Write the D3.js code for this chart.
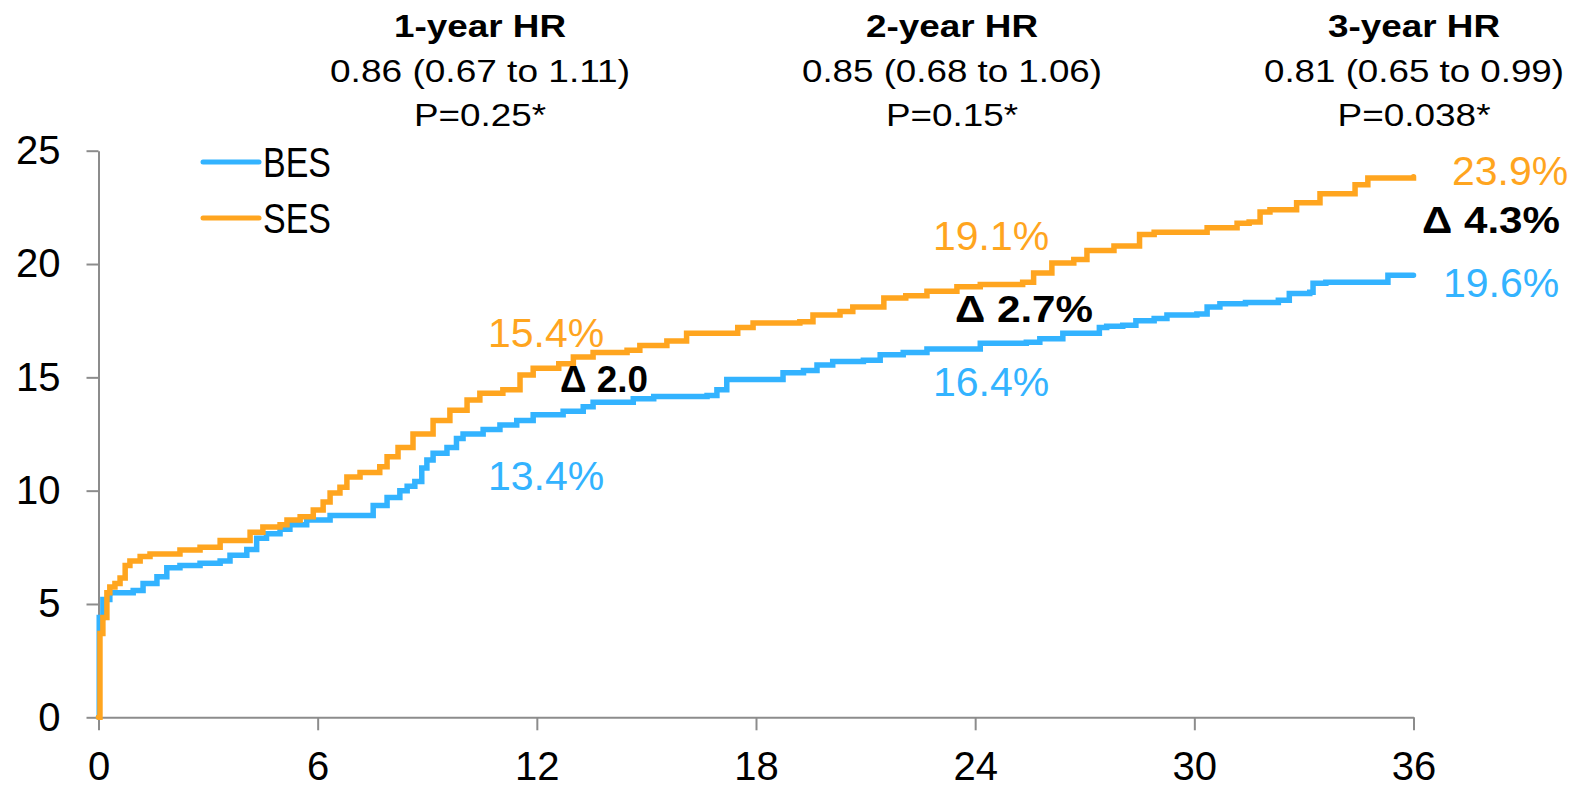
<!DOCTYPE html>
<html>
<head>
<meta charset="utf-8">
<script src="https://cdn.jsdelivr.net/npm/d3@7"></script>
<style>
  body { margin: 0; background: #fff; }
  svg { display: block; font-family: "Liberation Sans", Arial, sans-serif; }
</style>
</head>
<body>
<div id="chart"></div>
<script>
// months since procedure / cumulative event rate (%)
var besMonths = [0, 0.02, 0.12, 0.31, 0.95, 1.22, 1.6, 1.87, 2.23, 2.78, 3.33, 3.6, 4.06, 4.33, 4.6, 4.97, 5.24, 5.7, 6.34, 7.52, 7.9, 8.25, 8.45, 8.66, 8.85, 8.99, 9.16, 9.54, 9.8, 9.98, 10.53, 10.99, 11.45, 11.9, 12.72, 13.27, 13.54, 14.64, 15.2, 16.66, 16.93, 17.2, 18.74, 19.3, 19.67, 20.1, 20.94, 21.4, 22.03, 22.68, 24.14, 25.4, 25.77, 26.4, 27.4, 27.6, 28.04, 28.4, 28.9, 29.25, 30.07, 30.35, 30.7, 31.4, 32.3, 32.6, 33.16, 33.25, 33.6, 35.3, 36];
var besRate   = [0, 4.4, 5.2, 5.5, 5.6, 5.9, 6.2, 6.6, 6.7, 6.8, 6.9, 7.15, 7.4, 7.9, 8.1, 8.3, 8.5, 8.7, 8.9, 9.35, 9.7, 10.0, 10.2, 10.4, 11.0, 11.35, 11.65, 11.9, 12.3, 12.5, 12.7, 12.9, 13.1, 13.35, 13.5, 13.7, 13.9, 14.05, 14.15, 14.2, 14.45, 14.9, 15.2, 15.3, 15.55, 15.7, 15.75, 16.0, 16.1, 16.25, 16.5, 16.55, 16.7, 16.95, 17.2, 17.25, 17.3, 17.5, 17.6, 17.75, 17.8, 18.1, 18.25, 18.3, 18.4, 18.7, 18.75, 19.15, 19.2, 19.5, 19.5];

var sesMonths = [0, 0.04, 0.12, 0.23, 0.31, 0.45, 0.59, 0.73, 0.86, 1.14, 1.41, 2.23, 2.78, 3.33, 4.15, 4.5, 4.97, 5.16, 5.52, 5.88, 6.15, 6.34, 6.61, 6.8, 7.16, 7.7, 7.9, 8.2, 8.61, 9.16, 9.62, 10.09, 10.44, 11.07, 11.54, 11.9, 12.6, 13.0, 13.54, 14.47, 14.82, 15.56, 16.1, 17.5, 17.92, 19.2, 19.56, 20.3, 20.65, 21.5, 22.1, 22.68, 23.5, 24.14, 25.3, 25.6, 26.1, 26.7, 27.06, 27.8, 28.5, 28.9, 30.35, 31.17, 31.5, 31.8, 32.07, 32.8, 33.44, 34.4, 34.75, 36];
var sesRate   = [0, 3.7, 4.4, 5.5, 5.75, 5.9, 6.15, 6.7, 6.9, 7.1, 7.2, 7.38, 7.5, 7.8, 8.17, 8.4, 8.5, 8.7, 8.85, 9.15, 9.5, 9.9, 10.15, 10.6, 10.8, 11.05, 11.5, 11.9, 12.5, 13.1, 13.55, 14.0, 14.3, 14.45, 15.1, 15.4, 15.6, 15.9, 16.1, 16.2, 16.4, 16.6, 16.95, 17.2, 17.4, 17.45, 17.75, 17.9, 18.1, 18.5, 18.6, 18.8, 19.0, 19.1, 19.2, 19.6, 20.05, 20.2, 20.6, 20.8, 21.3, 21.4, 21.6, 21.8, 21.85, 22.3, 22.4, 22.7, 23.1, 23.5, 23.8, 23.85];

var seriesNames = ["BES", "SES"];
var xTicks = [0, 6, 12, 18, 24, 30, 36];
var yTicks = [0, 5, 10, 15, 20, 25];

var hrTitles = ["1-year HR", "2-year HR", "3-year HR"];
var hrValues = ["0.86 (0.67 to 1.11)", "0.85 (0.68 to 1.06)", "0.81 (0.65 to 0.99)"];
var hrPvalues = ["P=0.25*", "P=0.15*", "P=0.038*"];

var besLabels = ["13.4%", "16.4%", "19.6%"];
var sesLabels = ["15.4%", "19.1%", "23.9%"];
var deltaLabels = ["\u0394 2.0", "\u0394 2.7%", "\u0394 4.3%"];

var blue = "#33b3ff";
var orange = "#ffa51f";

var w = 1582, h = 789;

var xScale = d3.scaleLinear().domain([0, 36]).range([98.5, 1413.5]);
var yScale = d3.scaleLinear().domain([0, 25]).range([717.3, 150.7]);

var svg = d3.select("#chart").append("svg")
    .attr("width", w)
    .attr("height", h);

// axes
var yAxis = d3.axisLeft(yScale)
    .tickValues(yTicks)
    .tickSize(12)
    .tickSizeOuter(0)
    .tickPadding(26);

var xAxis = d3.axisBottom(xScale)
    .tickValues(xTicks)
    .tickSize(13)
    .tickSizeOuter(0)
    .tickPadding(21);

var gy = svg.append("g")
    .attr("transform", "translate(" + xScale(0) + ",0)")
    .call(yAxis);

var gx = svg.append("g")
    .attr("transform", "translate(0," + yScale(0) + ")")
    .call(xAxis);

[gx, gy].forEach(function (g) {
    g.select(".domain").attr("stroke", "#8c8c8c").attr("stroke-width", 2);
    g.selectAll(".tick line").attr("stroke", "#8c8c8c").attr("stroke-width", 2);
    g.selectAll(".tick text")
        .attr("fill", "#000")
        .style("font-family", "'Liberation Sans', Arial, sans-serif")
        .style("font-size", "40px");
});

// KM curves
var line = d3.line()
    .x(function (d) { return xScale(d[0]); })
    .y(function (d) { return yScale(d[1]); })
    .curve(d3.curveStepAfter);

var curves = [
    { name: seriesNames[0], color: blue, pts: d3.zip(besMonths, besRate) },
    { name: seriesNames[1], color: orange, pts: d3.zip(sesMonths, sesRate) }
];

svg.selectAll("path.km")
    .data(curves)
    .enter()
    .append("path")
    .attr("class", "km")
    .attr("d", function (d) { return line(d.pts); })
    .attr("fill", "none")
    .attr("stroke", function (d) { return d.color; })
    .attr("stroke-width", 5.5)
    .attr("stroke-linejoin", "miter")
    .attr("stroke-linecap", "round");

// legend
var legend = svg.selectAll("g.legend")
    .data(curves)
    .enter()
    .append("g")
    .attr("class", "legend")
    .attr("transform", function (d, i) { return "translate(203," + (162 + i * 56) + ")"; });

legend.append("line")
    .attr("x1", 0).attr("x2", 56)
    .attr("stroke", function (d) { return d.color; })
    .attr("stroke-width", 5)
    .attr("stroke-linecap", "round");

legend.append("text")
    .attr("x", 60)
    .attr("y", 15)
    .attr("textLength", 68)
    .attr("lengthAdjust", "spacingAndGlyphs")
    .style("font-size", "42px")
    .text(function (d) { return d.name; });

// HR header blocks
var headerX = [480, 952, 1414];
var header = svg.selectAll("g.hr")
    .data(hrTitles)
    .enter()
    .append("g")
    .attr("class", "hr")
    .attr("transform", function (d, i) { return "translate(" + headerX[i] + ",0)"; });

header.append("text")
    .attr("y", 37)
    .attr("text-anchor", "middle")
    .attr("textLength", 172)
    .attr("lengthAdjust", "spacingAndGlyphs")
    .style("font-size", "32px")
    .style("font-weight", "bold")
    .text(function (d) { return d; });

header.append("text")
    .attr("y", 82)
    .attr("text-anchor", "middle")
    .attr("textLength", 300)
    .attr("lengthAdjust", "spacingAndGlyphs")
    .style("font-size", "32px")
    .text(function (d, i) { return hrValues[i]; });

header.append("text")
    .attr("y", 126)
    .attr("text-anchor", "middle")
    .attr("textLength", function (d, i) { return hrPvalues[i].length > 7 ? 153 : 132; })
    .attr("lengthAdjust", "spacingAndGlyphs")
    .style("font-size", "32px")
    .text(function (d, i) { return hrPvalues[i]; });

// rate annotations
var besPos = [[488, 490], [933, 396], [1443, 297]];
var sesPos = [[488, 347], [933, 250], [1452, 185]];
var deltaPos = [[560, 392, 88], [955, 322, 138], [1422, 233, 138]];

svg.selectAll("text.bes")
    .data(besLabels)
    .enter()
    .append("text")
    .attr("class", "bes")
    .attr("x", function (d, i) { return besPos[i][0]; })
    .attr("y", function (d, i) { return besPos[i][1]; })
    .attr("fill", blue)
    .style("font-size", "41px")
    .text(function (d) { return d; });

svg.selectAll("text.ses")
    .data(sesLabels)
    .enter()
    .append("text")
    .attr("class", "ses")
    .attr("x", function (d, i) { return sesPos[i][0]; })
    .attr("y", function (d, i) { return sesPos[i][1]; })
    .attr("fill", orange)
    .style("font-size", "41px")
    .text(function (d) { return d; });

svg.selectAll("text.delta")
    .data(deltaLabels)
    .enter()
    .append("text")
    .attr("class", "delta")
    .attr("x", function (d, i) { return deltaPos[i][0]; })
    .attr("y", function (d, i) { return deltaPos[i][1]; })
    .attr("textLength", function (d, i) { return deltaPos[i][2]; })
    .attr("lengthAdjust", "spacingAndGlyphs")
    .style("font-size", "37px")
    .style("font-weight", "bold")
    .text(function (d) { return d; });
</script>
</body>
</html>
